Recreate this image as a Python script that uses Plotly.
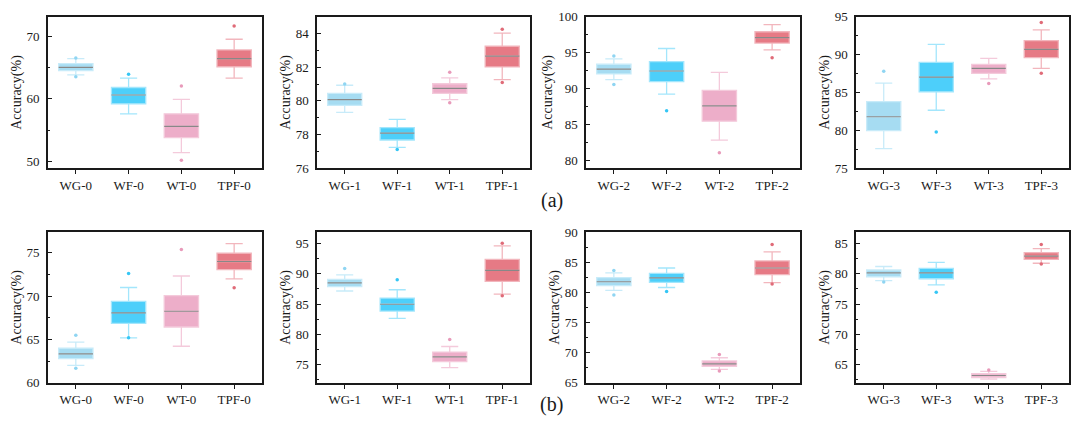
import plotly.graph_objects as go

groups = ['WG', 'WF', 'WT', 'TPF']
panel_ids = [0, 1, 2, 3, 0, 1, 2, 3]

# box statistics per panel (row a: panels 0-3, row b: panels 4-7), order WG, WF, WT, TPF
lower = [
    [63.8, 57.6, 51.4, 63.3],
    [79.32, 77.24, 80.08, 81.26],
    [91.23, 89.22, 82.82, 95.39],
    [77.6, 82.66, 86.79, 88.19],
    [62.0, 65.19, 64.22, 72.0],
    [87.16, 82.63, 74.52, 86.63],
    [80.32, 80.8, 67.23, 81.6],
    [78.87, 78.17, 62.6, 81.75],
]
q1 = [
    [64.5, 59.2, 53.8, 65.1],
    [79.74, 77.68, 80.45, 82.02],
    [92.04, 90.96, 85.46, 96.33],
    [79.98, 85.09, 87.51, 89.6],
    [62.78, 66.85, 66.44, 73.07],
    [87.9, 83.85, 75.48, 88.76],
    [81.12, 81.65, 67.71, 82.93],
    [79.5, 79.19, 62.87, 82.39],
]
median = [
    [65.0, 60.6, 55.6, 66.4],
    [80.08, 78.09, 80.74, 82.66],
    [92.7, 92.44, 87.6, 97.09],
    [81.8, 87.04, 88.19, 90.7],
    [63.33, 68.07, 68.26, 74.0],
    [88.49, 84.97, 76.28, 90.57],
    [81.76, 82.39, 68.14, 84.04],
    [80.15, 80.15, 63.2, 82.92],
]
q3 = [
    [65.6, 61.8, 57.6, 67.8],
    [80.45, 78.41, 81.02, 83.25],
    [93.38, 93.74, 89.75, 97.9],
    [83.8, 88.96, 88.7, 91.85],
    [64.0, 69.4, 70.07, 74.96],
    [89.08, 85.99, 77.08, 92.39],
    [82.45, 83.14, 68.62, 85.21],
    [80.63, 80.89, 63.5, 83.5],
]
upper = [
    [66.4, 63.3, 59.9, 69.5],
    [80.93, 78.91, 81.37, 84.02],
    [94.14, 95.57, 92.26, 98.88],
    [86.23, 91.34, 89.51, 93.26],
    [64.7, 71.0, 72.33, 76.07],
    [89.83, 87.37, 77.99, 94.63],
    [83.24, 84.04, 69.15, 86.7],
    [81.21, 81.9, 63.9, 84.15],
]
outliers = [
    [[66.5, 63.5], [63.9], [62.05, 50.2], [71.6]],
    [[81.0], [77.11], [81.7, 79.89], [84.25, 81.1]],
    [[94.54, 90.56], [86.9], [81.07], [94.27]],
    [[87.8], [79.8], [86.19], [94.23, 87.55]],
    [[65.48, 61.67], [72.63, 65.2], [75.4], [70.96]],
    [[90.9], [89.03], [79.16], [95.05, 86.36]],
    [[83.62, 79.57], [80.16], [69.68, 66.97], [87.93, 81.38]],
    [[78.65], [76.95], [64.1], [84.84, 81.64]],
]

y_ranges = [[48.9, 73.1], [76, 85], [78.9, 100], [75, 95],
            [60, 77.4], [72, 96.9], [65, 90], [62, 86.9]]
y_dticks = [10, 2, 5, 5, 5, 5, 5, 5]

fill_colors = ['#a6dcf2', '#4dcffa', '#edaec9', '#e67a85']
line_colors = ['#c8ebf9', '#a3e6fc', '#f4cadb', '#f2b6bd']
dot_colors = ['#8fd5f2', '#35c6f5', '#e89aba', '#e06b78']

x_domains = [[0.0444, 0.2426], [0.2935, 0.4907], [0.5426, 0.7407], [0.7926, 0.9898]]
y_domains = [[0.6213, 0.9773], [0.1179, 0.4717]]

font = 'Liberation Serif'
ink = '#1a1a1a'

fig = go.Figure()
layout = {}
for p in range(8):
    n = p + 1
    xa = 'x' if n == 1 else 'x%d' % n
    ya = 'y' if n == 1 else 'y%d' % n
    cats = ['%s-%d' % (g, panel_ids[p]) for g in groups]
    for k in range(4):
        fig.add_trace(go.Box(
            x=[cats[k]], q1=[q1[p][k]], median=[median[p][k]], q3=[q3[p][k]],
            lowerfence=[lower[p][k]], upperfence=[upper[p][k]],
            fillcolor=fill_colors[k], line=dict(color=line_colors[k], width=1.3),
            width=0.65, whiskerwidth=0.5, boxpoints=False,
            xaxis=xa, yaxis=ya, showlegend=False, hoverinfo='skip'))
        # grey median line drawn as a flat box over the coloured one
        fig.add_trace(go.Box(
            x=[cats[k]], q1=[median[p][k]], median=[median[p][k]], q3=[median[p][k]],
            lowerfence=[median[p][k]], upperfence=[median[p][k]],
            fillcolor='rgba(0,0,0,0)', line=dict(color='#888888', width=1.2),
            width=0.65, whiskerwidth=0, boxpoints=False,
            xaxis=xa, yaxis=ya, showlegend=False, hoverinfo='skip'))
        fig.add_trace(go.Scatter(
            x=[cats[k]] * len(outliers[p][k]), y=outliers[p][k], mode='markers',
            marker=dict(color=dot_colors[k], size=3.5),
            xaxis=xa, yaxis=ya, showlegend=False, hoverinfo='skip'))

    row = 0 if p < 4 else 1
    col = p % 4
    layout['xaxis' if n == 1 else 'xaxis%d' % n] = dict(
        domain=x_domains[col], anchor=ya, type='category',
        categoryorder='array', categoryarray=cats,
        showline=True, mirror=True, linecolor=ink, linewidth=1.5,
        ticks='outside', ticklen=4, tickcolor=ink,
        tickfont=dict(family=font, size=13, color=ink),
        showgrid=False, zeroline=False, fixedrange=True)
    layout['yaxis' if n == 1 else 'yaxis%d' % n] = dict(
        domain=y_domains[row], anchor=xa, range=y_ranges[p], dtick=y_dticks[p],
        showline=True, mirror=True, linecolor=ink, linewidth=1.5,
        ticks='inside', ticklen=4, tickcolor=ink, ticklabelstandoff=4,
        minor=dict(ticks='inside', ticklen=2.5, dtick=y_dticks[p] / 2, tickcolor=ink),
        tickfont=dict(family=font, size=13, color=ink),
        title=dict(text='Accuracy(%)', font=dict(family=font, size=14, color=ink), standoff=2),
        showgrid=False, zeroline=False, fixedrange=True)

fig.update_layout(
    width=1080, height=441, margin=dict(l=0, r=0, t=0, b=0),
    paper_bgcolor='white', plot_bgcolor='white', boxmode='overlay',
    font=dict(family=font),
    annotations=[
        dict(text='(a)', x=0.511, y=1 - 200 / 441, xref='paper', yref='paper',
             showarrow=False, font=dict(family=font, size=20, color=ink)),
        dict(text='(b)', x=0.511, y=1 - 425 / 441, xref='paper', yref='paper',
             showarrow=False, font=dict(family=font, size=20, color=ink)),
    ],
    **layout)

fig.write_html('out.html', config={'displayModeBar': False},
               post_script="document.body.style.margin='0';")
